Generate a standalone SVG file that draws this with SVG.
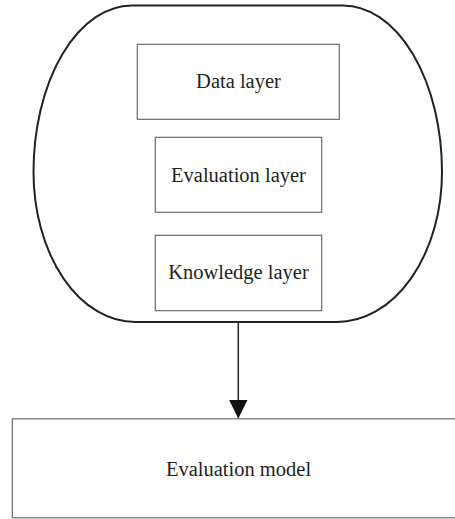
<svg xmlns="http://www.w3.org/2000/svg" width="455" height="519" viewBox="0 0 455 519">
  <defs>
    <style>
      .box { fill: #ffffff; stroke: #6b6b6b; stroke-width: 1.2; }
      .outer { fill: #ffffff; stroke: #222222; stroke-width: 2; }
      .label { font-family: "Liberation Serif", "Times New Roman", serif; font-size: 20.5px; fill: #231f20; text-anchor: middle; }
      .conn { stroke: #222222; stroke-width: 1.5; fill: none; }
    </style>
    <marker id="arrow" markerUnits="userSpaceOnUse" markerWidth="20" markerHeight="20" viewBox="0 0 20 20" refX="18.5" refY="9.2" orient="auto">
      <path d="M0,0 L18.5,9.2 L0,18.4 Z" fill="#111111"/>
    </marker>
  </defs>
  <rect width="455" height="519" fill="#ffffff"/>

  <g id="container">
    <path class="outer" d="M132,5.5 H343 A99,166.5 0 0 1 442,172 A105,150 0 0 1 337,322 H135 A101.5,150 0 0 1 33.5,172 A98.5,166.5 0 0 1 132,5.5 Z"/>
  </g>

  <g id="data-layer">
    <rect class="box" x="137.3" y="44.3" width="202" height="75"/>
    <text class="label" x="238.5" y="88.3">Data layer</text>
  </g>

  <g id="evaluation-layer">
    <rect class="box" x="155.3" y="137.3" width="166.4" height="75"/>
    <text class="label" x="238.5" y="181.7">Evaluation layer</text>
  </g>

  <g id="knowledge-layer">
    <rect class="box" x="155.3" y="235.3" width="166.4" height="75.4"/>
    <text class="label" x="238.5" y="279.3">Knowledge layer</text>
  </g>

  <g id="connectors">
    <line class="conn" x1="238.3" y1="322" x2="238.3" y2="418.5" marker-end="url(#arrow)"/>
  </g>

  <g id="evaluation-model">
    <rect class="box" x="12.3" y="418.8" width="460" height="99"/>
    <text class="label" x="238.5" y="476">Evaluation model</text>
  </g>
</svg>
